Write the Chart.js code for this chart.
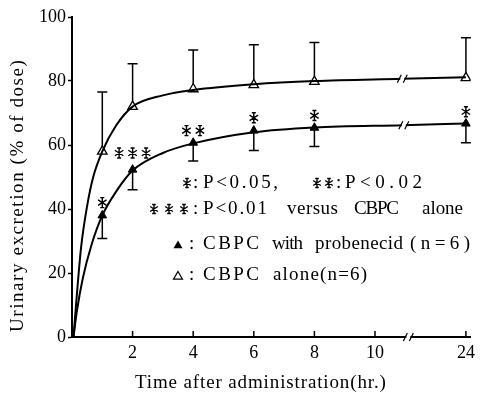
<!DOCTYPE html>
<html>
<head>
<meta charset="utf-8">
<script src="https://cdn.jsdelivr.net/npm/chart.js@4.4.0/dist/chart.umd.min.js"></script>
<style>
  html, body { margin: 0; padding: 0; background: #fff; }
  #wrap { width: 480px; height: 396px; }
</style>
</head>
<body>
<div id="wrap"><canvas id="chart"></canvas></div>
<script>
// sampling times (hr) and x tick labels
const sampleTimes = [1, 2, 4, 6, 8, 24];
const tickHours = [2, 4, 6, 8, 10, 24];
const yTicks = [0, 20, 40, 60, 80, 100];

// CBPC alone (open triangle): mean and top of error bar
const aloneMean = [58, 72, 77.5, 78.8, 79.8, 81];
const aloneUpper = [76.6, 85.4, 89.7, 91.3, 92, 93.5];

// CBPC with probenecid (filled triangle): mean and bottom of error bar
const probMean = [38, 52.3, 60.7, 64.5, 65.4, 66.7];
const probLower = [30.8, 46, 55, 58.3, 59.5, 60.7];

// fitted curves
const aloneCurveHours = [0.05, 0.15, 0.3, 0.5, 0.7, 1, 1.45, 2, 3, 4, 6, 8, 10.9, 24];
const aloneCurveValues = [0, 12, 28, 41, 50, 58, 66, 72, 75.5, 77.2, 79, 80, 80.7, 81.2];
const probCurveHours = [0.05, 0.16, 0.36, 0.65, 1, 1.46, 2, 3, 4, 6, 8, 10.9, 24];
const probCurveValues = [0, 8, 18.5, 29, 38, 45.5, 52, 57.5, 60.5, 64, 65.5, 66.2, 66.7];

// significance marks above the probenecid points
const sigHours = [1, 2, 4, 6, 8, 24];
const sigStars = [1, 3, 2, 1, 1, 1];
const sigValues = [42, 57.5, 64.5, 68.5, 69.2, 70.4];

// broken axis: 24 hr is drawn at position 13
function axisPos(h) {
  return h === 24 ? 13 : h;
}

const FONT = "'Liberation Serif', 'DejaVu Serif', serif";

function xy(hours, values) {
  return hours.map((h, i) => ({ x: axisPos(h), y: values[i] }));
}

function drawStar(ctx, cx, cy, r) {
  ctx.save();
  ctx.strokeStyle = "#000";
  ctx.lineWidth = 1.4;
  ctx.beginPath();
  ctx.moveTo(cx, cy - r);
  ctx.lineTo(cx, cy + r);
  ctx.moveTo(cx - r * 0.85, cy - r * 0.55);
  ctx.lineTo(cx + r * 0.85, cy + r * 0.55);
  ctx.moveTo(cx - r * 0.85, cy + r * 0.55);
  ctx.lineTo(cx + r * 0.85, cy - r * 0.55);
  ctx.moveTo(cx - r * 0.4, cy - r);
  ctx.lineTo(cx + r * 0.4, cy - r);
  ctx.moveTo(cx - r * 0.4, cy + r);
  ctx.lineTo(cx + r * 0.4, cy + r);
  ctx.stroke();
  ctx.restore();
}

function fitText(ctx, str, x0, x1, y) {
  ctx.letterSpacing = "0px";
  const w = ctx.measureText(str).width;
  const sp = str.length > 1 ? (x1 - x0 - w) / (str.length - 1) : 0;
  ctx.letterSpacing = sp.toFixed(2) + "px";
  ctx.fillText(str, x0, y);
  ctx.letterSpacing = "0px";
}

function drawTri(ctx, cx, cy, s, filled) {
  ctx.beginPath();
  ctx.moveTo(cx, cy - s);
  ctx.lineTo(cx + s, cy + s * 0.7);
  ctx.lineTo(cx - s, cy + s * 0.7);
  ctx.closePath();
  if (filled) {
    ctx.fillStyle = "#000";
    ctx.fill();
  } else {
    ctx.lineWidth = 1.2;
    ctx.strokeStyle = "#000";
    ctx.stroke();
  }
}

function breakMark(ctx, cx, cy) {
  ctx.save();
  ctx.fillStyle = "#fff";
  ctx.fillRect(cx - 2, cy - 3, 4, 6);
  ctx.strokeStyle = "#000";
  ctx.lineWidth = 1.2;
  ctx.beginPath();
  ctx.moveTo(cx - 5, cy + 4);
  ctx.lineTo(cx - 1, cy - 4);
  ctx.moveTo(cx + 1, cy + 4);
  ctx.lineTo(cx + 5, cy - 4);
  ctx.stroke();
  ctx.restore();
}

const extras = {
  id: "extras",
  beforeDatasetsDraw(chart) {
    const ctx = chart.ctx;
    const xs = chart.scales.x;
    const ys = chart.scales.y;
    ctx.save();
    ctx.strokeStyle = "#000";
    ctx.lineWidth = 1.5;
    sampleTimes.forEach((h, i) => {
      const px = xs.getPixelForValue(axisPos(h));
      const bars = [
        [aloneMean[i], aloneUpper[i]],
        [probMean[i], probLower[i]],
      ];
      bars.forEach(([m, e]) => {
        const y0 = ys.getPixelForValue(m);
        const y1 = ys.getPixelForValue(e);
        ctx.beginPath();
        ctx.moveTo(px, y0);
        ctx.lineTo(px, y1);
        ctx.moveTo(px - 5, y1);
        ctx.lineTo(px + 5, y1);
        ctx.stroke();
      });
    });
    ctx.restore();
  },
  afterDatasetsDraw(chart) {
    const ctx = chart.ctx;
    const xs = chart.scales.x;
    const ys = chart.scales.y;
    const area = chart.chartArea;

    // significance stars
    sigHours.forEach((h, i) => {
      const cx = xs.getPixelForValue(axisPos(h));
      const cy = ys.getPixelForValue(sigValues[i]);
      const n = sigStars[i];
      for (let k = 0; k < n; k++) {
        drawStar(ctx, cx + (k - (n - 1) / 2) * 13.5, cy, 5);
      }
    });

    // axis break marks
    breakMark(ctx, xs.getPixelForValue(10.9), ys.getPixelForValue(80.7));
    breakMark(ctx, xs.getPixelForValue(10.95), ys.getPixelForValue(66.2));
    breakMark(ctx, xs.getPixelForValue(11.1), area.bottom);

    // x ticks point into the plot
    ctx.save();
    ctx.strokeStyle = "#000";
    ctx.lineWidth = 1.5;
    tickHours.forEach((h) => {
      const px = xs.getPixelForValue(axisPos(h));
      ctx.beginPath();
      ctx.moveTo(px, area.bottom);
      ctx.lineTo(px, area.bottom - 6);
      ctx.stroke();
    });
    ctx.restore();

    // legend block
    ctx.save();
    ctx.fillStyle = "#000";
    ctx.textBaseline = "middle";
    ctx.textAlign = "left";
    ctx.font = "19px " + FONT;

    drawStar(ctx, 187, 183, 4.5);
    fitText(ctx, ":", 193, 197, 183);
    fitText(ctx, "P<0.05,", 203, 278, 183);
    drawStar(ctx, 317, 183, 4.5);
    drawStar(ctx, 329, 183, 4.5);
    fitText(ctx, ":", 336, 340, 183);
    fitText(ctx, "P<0.02", 345, 422, 183);

    drawStar(ctx, 154, 209, 4.5);
    drawStar(ctx, 169, 209, 4.5);
    drawStar(ctx, 184, 209, 4.5);
    fitText(ctx, ":", 193, 197, 209);
    fitText(ctx, "P<0.01", 203, 267, 209);
    fitText(ctx, "versus", 287, 338, 209);
    fitText(ctx, "CBPC", 354, 399, 209);
    fitText(ctx, "alone", 422, 463, 209);

    drawTri(ctx, 178, 245, 4.5, true);
    fitText(ctx, ":", 189, 193, 244);
    fitText(ctx, "CBPC", 203, 259, 244);
    fitText(ctx, "with", 272, 303, 244);
    fitText(ctx, "probenecid", 315, 403, 244);
    fitText(ctx, "(n=6)", 410, 470, 244);

    drawTri(ctx, 178, 276, 4.5, false);
    fitText(ctx, ":", 189, 193, 275);
    fitText(ctx, "CBPC", 203, 259, 275);
    fitText(ctx, "alone(n=6)", 273, 367, 275);

    // axis titles
    ctx.font = "19px " + FONT;
    fitText(ctx, "Time after administration(hr.)", 135, 386, 383);
    ctx.translate(18, 196);
    ctx.rotate(-Math.PI / 2);
    fitText(ctx, "Urinary excretion (% of dose)", -136, 136, 0);
    ctx.restore();
  },
};

new Chart(document.getElementById("chart"), {
  type: "line",
  data: {
    datasets: [
      {
        data: xy(aloneCurveHours, aloneCurveValues),
        borderColor: "#000",
        borderWidth: 2,
        pointRadius: 0,
        cubicInterpolationMode: "monotone",
      },
      {
        data: xy(probCurveHours, probCurveValues),
        borderColor: "#000",
        borderWidth: 2,
        pointRadius: 0,
        cubicInterpolationMode: "monotone",
      },
      {
        data: xy(sampleTimes, aloneMean),
        showLine: false,
        pointStyle: "triangle",
        pointRadius: 5.5,
        pointBackgroundColor: "#fff",
        pointBorderColor: "#000",
        pointBorderWidth: 1.3,
      },
      {
        data: xy(sampleTimes, probMean),
        showLine: false,
        pointStyle: "triangle",
        pointRadius: 5,
        pointBackgroundColor: "#000",
        pointBorderColor: "#000",
        pointBorderWidth: 1,
      },
    ],
  },
  options: {
    responsive: true,
    maintainAspectRatio: false,
    animation: false,
    events: [],
    layout: { padding: { top: 17, right: 4, left: 0, bottom: 0 } },
    plugins: {
      legend: { display: false },
      tooltip: { enabled: false },
    },
    scales: {
      x: {
        type: "linear",
        min: 0,
        max: 13.16,
        afterBuildTicks: (s) => {
          s.ticks = tickHours.map((h) => ({ value: axisPos(h) }));
        },
        afterFit: (s) => {
          s.height = 59;
        },
        ticks: {
          autoSkip: false,
          maxRotation: 0,
          padding: 5,
          color: "#000",
          font: { family: FONT, size: 18 },
          callback: (v) => {
            const i = tickHours.findIndex((h) => axisPos(h) === v);
            return i >= 0 ? String(tickHours[i]) : "";
          },
        },
        grid: { drawOnChartArea: false, drawTicks: false },
        border: { color: "#000", width: 2 },
      },
      y: {
        min: 0,
        max: 100,
        afterBuildTicks: (s) => {
          s.ticks = yTicks.map((v) => ({ value: v }));
        },
        afterFit: (s) => {
          s.width = 72;
        },
        ticks: {
          padding: 2,
          color: "#000",
          font: { family: FONT, size: 18 },
        },
        grid: {
          drawOnChartArea: false,
          tickLength: 4,
          tickWidth: 1.5,
          tickColor: "#000",
        },
        border: { color: "#000", width: 2 },
      },
    },
  },
  plugins: [extras],
});
</script>
</body>
</html>
